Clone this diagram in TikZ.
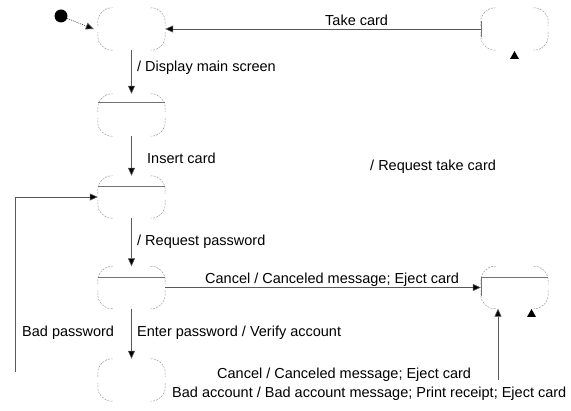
\documentclass[tikz,border=0pt]{standalone}
\usepackage{fontspec}
\setmainfont{Liberation Sans}
\usetikzlibrary{arrows.meta,calc}
\newcommand\stcorners[1]{%
 \draw[corner] ($(#1.west)+(0,-3)$) |- ($(#1.north)+(-19,0)$);
 \draw[corner] ($(#1.north)+(19,0)$) -| ($(#1.east)+(0,-3)$);
 \draw[corner] ($(#1.east)+(0,3)$) |- ($(#1.south)+(19,0)$);
 \draw[corner] ($(#1.south)+(-19,0)$) -| ($(#1.west)+(0,3)$);
}
\begin{document}
\begin{tikzpicture}[x=1pt,y=-1pt,
  st/.style={rectangle,minimum width=67pt,minimum height=42pt,inner sep=0pt,draw=none},
  corner/.style={draw=black!40,line width=0.5pt,dash pattern=on 2pt off 1.2pt,rounded corners=14pt},
  conn/.style={draw=black!65,line width=0.6pt,-{Triangle[length=8pt,width=7pt,fill=black]}},
  dconn/.style={draw=black!65,line width=0.7pt,dash pattern=on 1pt off 1pt,-{Triangle[length=8pt,width=7pt,fill=black]}},
  lbl/.style={font=\fontsize{14.5}{17}\selectfont,anchor=west,inner sep=0pt},
  divl/.style={draw=black!55,line width=0.6pt},
  tri/.style={fill=black}]
\useasboundingbox (0,0) rectangle (571,411);
% states
\node[st] (s1) at (131.5,29) {};
\node[st] (s7) at (514.5,29) {};
\node[st] (s2) at (131.5,115) {};
\node[st] (s3) at (131.5,197) {};
\node[st] (s4) at (131.5,287.5) {};
\node[st] (s5) at (514.5,287.5) {};
\node[st] (s6) at (131.5,380) {};
\foreach \n in {s1,s7,s2,s3,s4,s5,s6}{\stcorners{\n}}
% dividers and ticks
\draw[divl] ($(s2.north west)+(0,9)$) -- ($(s2.north east)+(0,9)$);
\draw[divl] ($(s3.north west)+(0,11)$) -- ($(s3.north east)+(0,11)$);
\draw[divl] ($(s4.north west)+(0,11)$) -- ($(s4.north east)+(0,11)$);
\draw[divl] ($(s5.north west)+(0,11)$) -- ($(s5.north east)+(0,11)$);
\draw[divl] ($(s7.west)+(0,-8)$) -- ($(s7.west)+(0,8)$);
\draw[divl] ($(s5.west)+(0,-10)$) -- ($(s5.west)+(0,9)$);
% initial
\node[circle,fill=black,minimum size=13pt,inner sep=0pt] (dotA) at (61,16) {};
\coordinate (s1in) at ($(s1.west)+(-4,0)$);
\draw[dconn] (dotA) -- (s1in);
% transitions
\draw[conn] (s7) -- (s1);
\draw[conn] (s1) -- (s2);
\draw[conn] (s2) -- (s3);
\draw[conn] (s3) -- (s4);
\draw[conn] (s4) -- (s6);
\draw[conn] (s4) -- (s5);
\coordinate (bp) at (15,372);
\draw[conn] (bp) |- (s3);
\coordinate (ua) at (498,380);
\draw[conn] (ua) -- (ua |- s5.south);
% stray arrowheads
\fill[tri] (510,59) -- (519,59) -- (514.5,51) -- cycle;
\fill[tri] (527,317) -- (536,317) -- (531.5,309) -- cycle;
% labels
\node[lbl] (l1) at (325,20) {Take card};
\node[lbl] (l2) at (137,68) {/ Display main screen};
\node[lbl] (l3) at (147,158) {Insert card};
\node[lbl] (l4) at (370,167) {/ Request take card};
\node[lbl] (l5) at (137,242) {/ Request password};
\node[lbl] (l6) at (205,280) {Cancel / Canceled message; Eject card};
\node[lbl] (l7) at (22,333) {Bad password};
\node[lbl] (l8) at (137,333) {Enter password / Verify account};
\node[lbl] (l9) at (217,375) {Cancel / Canceled message; Eject card};
\node[lbl] (l10) at (172,394) {Bad account / Bad account message; Print receipt; Eject card};
\end{tikzpicture}
\end{document}
